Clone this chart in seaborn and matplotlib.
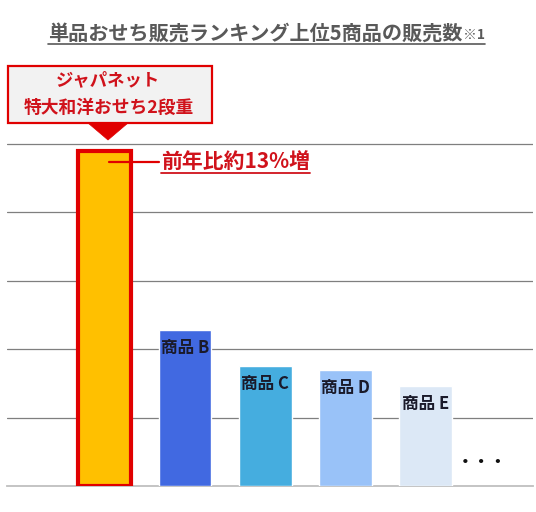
import matplotlib
matplotlib.use("Agg")
import matplotlib.pyplot as plt
import seaborn as sns
import pandas as pd
from matplotlib.patches import Rectangle, Polygon
from matplotlib.lines import Line2D

categories = ["A", "B", "C", "D", "E"]
values = [4.9, 2.28, 1.75, 1.70, 1.46]
bar_labels = ["", "商品 B", "商品 C", "商品 D", "商品 E"]
colors = ["#FFC000", "#4169E1", "#45ADDF", "#99C2F8", "#DCE8F6"]
title_main = "単品おせち販売ランキング上位5商品の販売数"
title_note = "※1"
box_lines = ["ジャパネット", "特大和洋おせち2段重"]
growth_text = "前年比約13%増"

sns.set_theme(style="white")
plt.rcParams["font.family"] = ["Noto Sans CJK JP", "DejaVu Sans"]

W, H = 536, 512
fig = plt.figure(figsize=(W / 100, H / 100), dpi=100)
fig.patch.set_facecolor("white")

def fx(x):
    return x / W

def fy(y):
    return 1 - y / H

# axes: y=0 at 486px, y=5 at 144px
unit = (486 - 144) / 5.0
ytop = 5.06
ax_top_px = 486 - ytop * unit
ax = fig.add_axes([fx(7), fy(486), fx(533) - fx(7), (486 - ax_top_px) / H])
ax.set_facecolor("white")

df = pd.DataFrame({"cat": categories, "val": values})
sns.barplot(data=df, x="cat", y="val", hue="cat", palette=colors, legend=False,
            width=0.66, ax=ax, zorder=3, saturation=1)

bars = ax.patches
bars[0].set_edgecolor("#E00000")
bars[0].set_linewidth(3)

ax.set_xlim(-1.22, 5.34)
ax.set_ylim(0, ytop)
for gy in [1, 2, 3, 4, 5]:
    ax.axhline(gy, color="#7F7F7F", lw=0.9, zorder=1)
for s in ["left", "right", "top"]:
    ax.spines[s].set_visible(False)
ax.spines["bottom"].set_color("#BFBFBF")
ax.spines["bottom"].set_linewidth(1.3)
ax.set_xticks([])
ax.set_yticks([])
ax.set_xlabel("")
ax.set_ylabel("")

# bar labels
for i, (v, lab) in enumerate(zip(values, bar_labels)):
    if lab:
        ax.text(i, v - 18 / unit, lab, ha="center", va="center", fontsize=12,
                fontweight="bold", color="#1A1A2A", zorder=5)

# ellipsis
ax.text(4.7, (486 - 462) / unit, "・・・", ha="center", va="center", fontsize=12,
        color="#111111", fontweight="bold")

# title
t1 = fig.text(fx(48), fy(33), title_main, ha="left", va="center", fontsize=14.5,
              fontweight="bold", color="#595959")
fig.canvas.draw()
r = fig.canvas.get_renderer()
bb = t1.get_window_extent(r)
t2 = fig.text(bb.x1 / W + 0.002, fy(35), title_note, ha="left", va="center", fontsize=10,
              fontweight="bold", color="#595959")
fig.canvas.draw()
bb2 = t2.get_window_extent(r)
fig.add_artist(Line2D([fx(48), bb2.x1 / W], [fy(44), fy(44)], color="#595959", lw=1.2))

# callout box
red = "#E00000"
fig.add_artist(Rectangle((fx(8), fy(123)), fx(212) - fx(8), (123 - 66) / H,
                         facecolor="#F2F2F2", edgecolor=red, lw=1.6))
fig.add_artist(Polygon([(fx(88), fy(123)), (fx(128), fy(123)), (fx(108), fy(140))],
                       closed=True, facecolor=red, edgecolor=red, lw=0.5))
fig.text(fx(108), fy(80), box_lines[0], ha="center", va="center", fontsize=12.5,
         fontweight="bold", color="#D0121B")
fig.text(fx(109), fy(108), box_lines[1], ha="center", va="center", fontsize=12.8,
         fontweight="bold", color="#D0121B")

# growth annotation
gy = (486 - 162) / unit
ax.add_line(Line2D([0.05, 0.68], [gy, gy], color=red, lw=1.6, zorder=6, clip_on=False))
t3 = fig.text(fx(161), fy(161), growth_text, ha="left", va="center", fontsize=15,
              fontweight="bold", color="#D0121B")
fig.canvas.draw()
bb3 = t3.get_window_extent(r)
fig.add_artist(Line2D([bb3.x0 / W, bb3.x1 / W], [fy(173), fy(173)], color="#D0121B", lw=1.3))

fig.savefig("out.png", dpi=100, facecolor="white")
